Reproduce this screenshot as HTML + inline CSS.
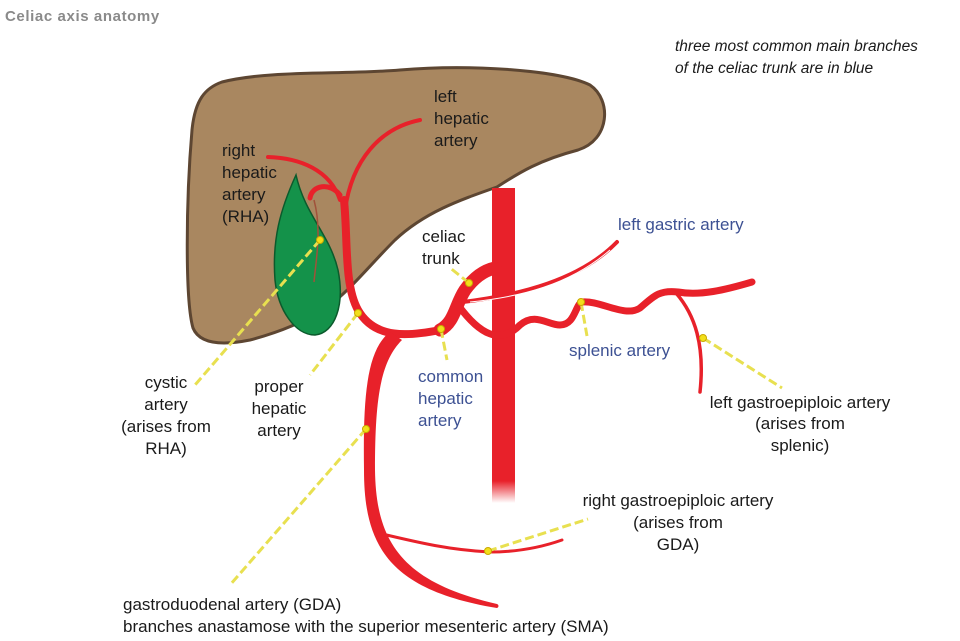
<!DOCTYPE html>
<html><head><meta charset="utf-8"><style>
html,body{margin:0;padding:0;background:#fff;}
svg{display:block;}
text{font-family:"Liberation Sans",sans-serif;font-size:17px;fill:#1a1a1a;}
.b{fill:#3d5193;}
.m{text-anchor:middle;}
.y{stroke:#e8e050;stroke-width:3;stroke-dasharray:9 4;fill:none;}
.d{fill:#f2df1a;stroke:#c9a800;stroke-width:1;}
.r{stroke:#e8212a;fill:none;stroke-linecap:round;}
</style></head><body>
<svg width="960" height="641" viewBox="0 0 960 641" xmlns="http://www.w3.org/2000/svg">
<defs><linearGradient id="ao" x1="0" y1="0" x2="0" y2="1">
<stop offset="0.93" stop-color="#e8212a"/><stop offset="1" stop-color="#e8212a" stop-opacity="0"/></linearGradient></defs>
<text x="5" y="21" style="font-size:15px;font-weight:bold;fill:#8a8a8a;letter-spacing:0.6px">Celiac axis anatomy</text>
<text x="675" y="51" style="font-style:italic;font-size:15.5px">three most common main branches</text>
<text x="675" y="73" style="font-style:italic;font-size:15.5px">of the celiac trunk are in blue</text>
<!-- liver -->
<path d="M222,82 C270,70 340,75 400,70 C470,64 560,70 590,85 C612,100 610,140 578,150 C540,160 520,172 497,187 C460,200 425,212 395,240 C370,265 350,290 330,305 C305,322 280,332 250,340 C225,345 200,345 193,328 C185,300 186,200 192,130 C195,100 205,88 222,82 Z" fill="#a98760" stroke="#5d4632" stroke-width="3"/>
<!-- aorta -->
<rect x="492" y="188" width="23" height="315" fill="url(#ao)"/>
<!-- gallbladder -->
<path d="M296,175 C280,210 272,240 275,280 C278,310 295,335 315,335 C335,333 345,305 338,270 C330,235 305,215 296,175 Z" fill="#14924a" stroke="#0b5a2c" stroke-width="1.5"/>
<path d="M314,200 C322,230 316,260 314,282" stroke="#a0523a" stroke-width="1.5" fill="none"/>
<!-- arteries -->
<path class="r" stroke-width="4" d="M268,157 C300,158 330,170 340,200"/>
<path class="r" stroke-width="4" d="M345,210 C352,160 380,128 420,120"/>
<path class="r" stroke-width="5" d="M340,195 C330,182 312,185 310,198"/>
<path class="r" stroke-width="8" d="M344,200 C348,240 344,285 358,310 C375,340 410,336 440,330"/>
<path fill="#e8212a" d="M390,332 C366,350 363,400 364,470 C364,545 388,590 497,608 C499,607 499,605 497,604 C400,582 376,540 375,470 C375,400 380,362 402,340 Z"/>
<path class="r" stroke-width="3" d="M378,533 C420,543 450,550 490,552 C520,552 545,546 562,540"/>
<path class="r" stroke-width="13" d="M440,330 C455,322 455,305 465,290 C475,276 486,270 495,268"/>
<path class="r" stroke-width="4" d="M463,302 C520,295 580,280 617,242"/>
<path d="M470,302 C520,297 570,285 610,250" stroke="#fff" stroke-width="1" fill="none"/>
<path class="r" stroke-width="7" d="M458,305 C480,335 500,345 520,325 C535,312 548,325 560,325 C575,325 575,305 582,302 C600,300 625,318 640,308 C655,295 660,290 678,292 C700,296 725,290 752,282"/>
<path class="r" stroke-width="3.5" d="M676,293 C695,315 705,345 700,392"/>
<!-- pointers -->
<line class="y" x1="320" y1="240" x2="195" y2="385"/><circle class="d" cx="320" cy="240" r="3.5"/>
<line class="y" x1="358" y1="313" x2="310" y2="375"/><circle class="d" cx="358" cy="313" r="3.5"/>
<line class="y" x1="469" y1="283" x2="449" y2="267"/><circle class="d" cx="469" cy="283" r="3.5"/>
<line class="y" x1="441" y1="329" x2="447" y2="360"/><circle class="d" cx="441" cy="329" r="3.5"/>
<line class="y" x1="581" y1="302" x2="587" y2="336"/><circle class="d" cx="581" cy="302" r="3.5"/>
<line class="y" x1="703" y1="338" x2="782" y2="388"/><circle class="d" cx="703" cy="338" r="3.5"/>
<line class="y" x1="366" y1="429" x2="230" y2="585"/><circle class="d" cx="366" cy="429" r="3.5"/>
<line class="y" x1="488" y1="551" x2="588" y2="519"/><circle class="d" cx="488" cy="551" r="3.5"/>
<!-- labels -->
<text x="222" y="156">right</text><text x="222" y="178">hepatic</text><text x="222" y="200">artery</text><text x="222" y="222">(RHA)</text>
<text x="434" y="102">left</text><text x="434" y="124">hepatic</text><text x="434" y="146">artery</text>
<text x="422" y="242">celiac</text><text x="422" y="264">trunk</text>
<text class="b" x="618" y="230">left gastric artery</text>
<text class="b" x="569" y="356">splenic artery</text>
<text class="b" x="418" y="382">common</text><text class="b" x="418" y="404">hepatic</text><text class="b" x="418" y="426">artery</text>
<text class="m" x="166" y="388">cystic</text><text class="m" x="166" y="410">artery</text><text class="m" x="166" y="432">(arises from</text><text class="m" x="166" y="454">RHA)</text>
<text class="m" x="279" y="392">proper</text><text class="m" x="279" y="414">hepatic</text><text class="m" x="279" y="436">artery</text>
<text class="m" x="800" y="408">left gastroepiploic artery</text><text class="m" x="800" y="429">(arises from</text><text class="m" x="800" y="451">splenic)</text>
<text class="m" x="678" y="506">right gastroepiploic artery</text><text class="m" x="678" y="528">(arises from</text><text class="m" x="678" y="550">GDA)</text>
<text x="123" y="610">gastroduodenal artery (GDA)</text>
<text x="123" y="632">branches anastamose with the superior mesenteric artery (SMA)</text>
</svg>
</body></html>
